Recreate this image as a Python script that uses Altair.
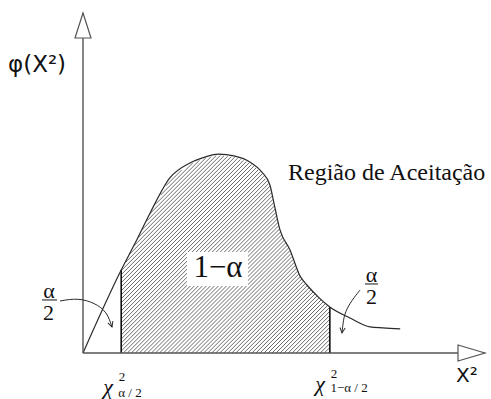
import numpy as np
import pandas as pd
import altair as alt

# Sketch of a chi-square density with the acceptance region between the two critical values
curve_x = [0, 0.95, 1.3, 1.67, 2.16, 2.66, 3.03, 3.36, 3.78, 4.15, 4.45, 4.65,
           4.75, 4.9, 5.15, 5.4, 5.57, 5.85, 6.14, 6.64, 7.14, 7.46, 7.89]
curve_y = [0, 0.244, 0.324, 0.412, 0.515, 0.559, 0.576, 0.585, 0.579, 0.562, 0.532, 0.494,
           0.441, 0.362, 0.303, 0.226, 0.2, 0.165, 0.135, 0.103, 0.077, 0.074, 0.071]
lower_crit = 0.95
upper_crit = 6.14

WIDTH, HEIGHT = 402, 340
X_DOM, Y_DOM = [0, 10], [0, 1]
xs = alt.Scale(domain=X_DOM)
ys = alt.Scale(domain=Y_DOM)

AXIS_COLOR = "#555555"
INK = "#2a2a2a"


def enc_xy(x="x", y="y"):
    return dict(x=alt.X(x, type="quantitative", scale=xs, axis=None),
                y=alt.Y(y, type="quantitative", scale=ys, axis=None))


def enc_seg():
    d = enc_xy()
    d.update(x2=alt.X2("x2"), y2=alt.Y2("y2"))
    return d


curve = pd.DataFrame({"x": curve_x, "y": curve_y})

# 45-degree hatching clipped to the region under the curve between the critical values
slope = (WIDTH / (X_DOM[1] - X_DOM[0])) / (HEIGHT / (Y_DOM[1] - Y_DOM[0]))
grid = np.linspace(lower_crit, upper_crit, 3000)
top = np.interp(grid, curve_x, curve_y)
rows = []
x0 = lower_crit - max(curve_y) / slope
while x0 < upper_crit:
    yl = slope * (grid - x0)
    inside = np.where((yl >= 0) & (yl <= top * 0.995))[0]
    if inside.size:
        i0, i1 = inside[0], inside[-1]
        rows.append({"x": grid[i0], "y": yl[i0], "x2": grid[i1], "y2": yl[i1]})
    x0 += 0.1
hatch = pd.DataFrame(rows)

base = alt.Chart(curve)

hatch_layer = alt.Chart(hatch).mark_rule(color="#5a5a5a", strokeWidth=0.9).encode(**enc_seg())

# white box behind the 1-alpha label
label_box = alt.Chart(pd.DataFrame({"x": [2.587], "x2": [4.104], "y": [0.197], "y2": [0.297]})
                      ).mark_rect(color="white").encode(**enc_seg())

crit = pd.DataFrame({"x": [lower_crit, upper_crit], "x2": [lower_crit, upper_crit],
                     "y": [0, 0],
                     "y2": [float(np.interp(lower_crit, curve_x, curve_y)),
                            float(np.interp(upper_crit, curve_x, curve_y))]})
crit_layer = alt.Chart(crit).mark_rule(color="#111111", strokeWidth=1.6).encode(**enc_seg())

curve_layer = base.mark_line(interpolate="monotone", color=INK, strokeWidth=1.2).encode(**enc_xy())

axes = pd.DataFrame({"x": [0, 0], "x2": [X_DOM[1], 0], "y": [0, 0], "y2": [0, Y_DOM[1]]})
axes_layer = alt.Chart(axes).mark_rule(color=AXIS_COLOR, strokeWidth=1.4).encode(**enc_seg())

up_head = alt.Chart(pd.DataFrame({"x": [0], "y": [Y_DOM[1]]})).mark_point(
    shape="M0,0L0.64,2L-0.64,2Z", size=625, filled=True, fill="white",
    stroke=AXIS_COLOR, strokeWidth=1.2, opacity=1).encode(**enc_xy())
right_head = alt.Chart(pd.DataFrame({"x": [X_DOM[1]], "y": [0]})).mark_point(
    shape="M0,0L-2,-0.59L-2,0.59Z", size=729, filled=True, fill="white",
    stroke=AXIS_COLOR, strokeWidth=1.2, opacity=1).encode(**enc_xy())

# curved pointers from the alpha/2 labels to the tails
pointers = pd.DataFrame({
    "x": [-0.572, -0.124, 0.299, 0.597, 0.721, 6.891, 6.692, 6.517, 6.468, 6.443],
    "y": [0.153, 0.162, 0.147, 0.121, 0.0765, 0.185, 0.156, 0.121, 0.088, 0.0588],
    "g": ["l"] * 5 + ["r"] * 5,
    "i": list(range(5)) * 2,
})
pointer_layer = alt.Chart(pointers).mark_line(interpolate="basis", color=INK, strokeWidth=1).encode(
    detail="g:N", order="i:Q", **enc_xy())
tips = pd.DataFrame({"x": [0.721, 6.443], "y": [0.0765, 0.0588], "a": [342, 6]})
tip_layer = alt.Chart(tips).mark_point(
    shape="M-0.5,-1L0,0L0.5,-1", size=110, filled=False, color=INK, strokeWidth=1,
    opacity=1).encode(angle=alt.Angle("a:Q", scale=None), **enc_xy())

# fraction bars of the alpha/2 labels
bars = pd.DataFrame({"x": [-1.02, 7.015], "x2": [-0.647, 7.338], "y": [0.156, 0.203], "y2": [0.156, 0.203]})
bar_layer = alt.Chart(bars).mark_rule(color="#111111", strokeWidth=1).encode(**enc_seg())


def text_layer(df, font, size, align="center", baseline="middle", style="normal"):
    return alt.Chart(df).mark_text(font=font, fontSize=size, align=align, baseline=baseline,
                                   fontStyle=style, color="#111111").encode(
        text="t:N", **enc_xy())


serif = "Liberation Serif"
sans = "DejaVu Sans"

t_phi = text_layer(pd.DataFrame({"x": [-1.866], "y": [0.847], "t": ["φ(X²)"]}), sans, 23, align="left")
t_x2 = text_layer(pd.DataFrame({"x": [9.55], "y": [-0.068], "t": ["X²"]}), sans, 20)
t_region = text_layer(pd.DataFrame({"x": [5.10], "y": [0.509], "t": ["Região de Aceitação"]}),
                      serif, 24, align="left", baseline="alphabetic")
t_one = text_layer(pd.DataFrame({"x": [3.358], "y": [0.2235], "t": ["1−α"]}),
                   serif, 31, baseline="alphabetic")
# alpha above the bar (bottom-anchored), 2 below it (top-anchored)
t_alpha = text_layer(pd.DataFrame({"x": [-0.846, 7.177], "y": [0.163, 0.21], "t": ["α", "α"]}),
                     serif, 22, baseline="alphabetic")
t_two = text_layer(pd.DataFrame({"x": [-0.858, 7.177], "y": [0.146, 0.193], "t": ["2", "2"]}),
                   serif, 22, baseline="top")
t_chi = text_layer(pd.DataFrame({"x": [0.622, 5.896], "y": [-0.1, -0.09], "t": ["χ", "χ"]}),
                   serif, 22, style="italic")
t_sup = text_layer(pd.DataFrame({"x": [0.970, 6.244], "y": [-0.0706, -0.0618], "t": ["2", "2"]}),
                   serif, 13)
t_sub = text_layer(pd.DataFrame({"x": [1.169, 6.617], "y": [-0.1176, -0.103],
                                 "t": ["α / 2", "1−α / 2"]}), serif, 13)

chart = alt.layer(
    hatch_layer, label_box, crit_layer, curve_layer, axes_layer, up_head, right_head,
    pointer_layer, tip_layer, bar_layer,
    t_phi, t_x2, t_region, t_one, t_alpha, t_two, t_chi, t_sup, t_sub,
).properties(
    width=WIDTH, height=HEIGHT,
    padding={"left": 83, "top": 13, "right": 6, "bottom": 46},
    autosize=alt.AutoSizeParams(type="none"),
    background="white",
).configure_view(stroke=None)

chart.save("out.html", embed_options={"renderer": "svg", "actions": False})
